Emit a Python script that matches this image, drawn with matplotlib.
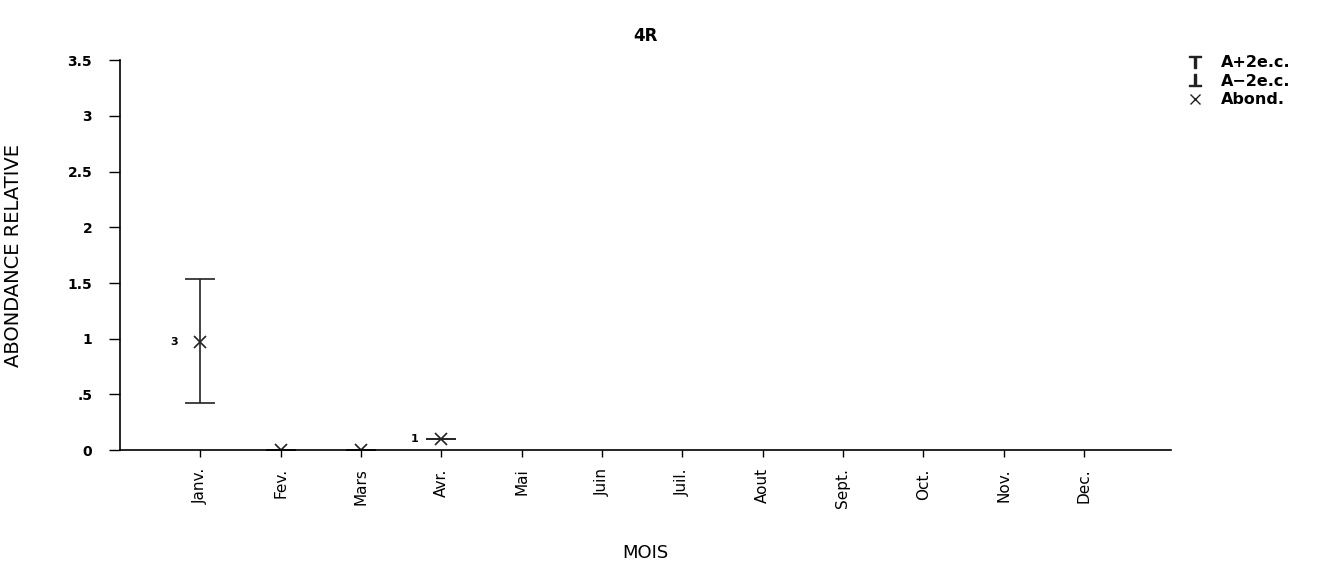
import numpy as np
import matplotlib.pyplot as plt
from matplotlib.lines import Line2D

# data
months = ["Janv.", "Fev.", "Mars", "Avr.", "Mai", "Juin", "Juil.", "Aout",
          "Sept.", "Oct.", "Nov.", "Dec."]
abond = [0.97, 0.0, 0.0, 0.10] + [np.nan] * 8
upper = [1.54, 0.0, 0.0, 0.10] + [np.nan] * 8
lower = [0.42, 0.0, 0.0, 0.10] + [np.nan] * 8
counts = [3, None, None, 1] + [None] * 8
yticks = [0, 0.5, 1, 1.5, 2, 2.5, 3, 3.5]
ytick_labels = ["0", ".5", "1", "1.5", "2", "2.5", "3", "3.5"]

fig = plt.figure(figsize=(13.42, 5.62), dpi=100)
ax = fig.add_axes([0.0894, 0.199, 0.783, 0.694])

x = np.arange(1, len(months) + 1)
ab = np.array(abond)
err = [ab - np.array(lower), np.array(upper) - ab]
ax.errorbar(x, ab, yerr=err, fmt="x", color="#222222", ms=8, mew=1.2,
            elinewidth=1.2, capsize=11, capthick=1.2)

for xi, yi, n in zip(x, abond, counts):
    if n is not None:
        ax.text(xi - 0.33, yi, str(n), ha="center", va="center",
                fontsize=8, fontweight="bold")

ax.set_xlim(0, 13.08)
ax.set_ylim(0, 3.5)
ax.set_xticks(x)
ax.set_xticklabels(months, rotation=90, fontsize=11)
ax.set_yticks(yticks)
ax.set_yticklabels(ytick_labels, fontsize=10, fontweight="bold")
ax.tick_params(axis="y", length=8, width=1, pad=12)
ax.tick_params(axis="x", length=5, width=1, pad=8)
for s in ["top", "right"]:
    ax.spines[s].set_visible(False)
for s in ["left", "bottom"]:
    ax.spines[s].set_linewidth(1.2)

ax.set_title("4R", fontsize=12, fontweight="bold", pad=14)
ax.set_xlabel("MOIS", fontsize=13, labelpad=26)
ax.set_ylabel("ABONDANCE RELATIVE", fontsize=14, labelpad=32)

handles = [
    Line2D([], [], ls="none", marker=r"$\top$", ms=9, color="#222222"),
    Line2D([], [], ls="none", marker=r"$\perp$", ms=9, color="#222222"),
    Line2D([], [], ls="none", marker="x", ms=7, color="#222222"),
]
fig.legend(handles, ["A+2e.c.", "A\u22122e.c.", "Abond."],
           loc="upper left", bbox_to_anchor=(0.868, 0.927), frameon=False,
           prop={"size": 11.5, "weight": "bold"}, handletextpad=0.6,
           labelspacing=0.22)

plt.savefig("out.png", dpi=100)
plt.close(fig)
